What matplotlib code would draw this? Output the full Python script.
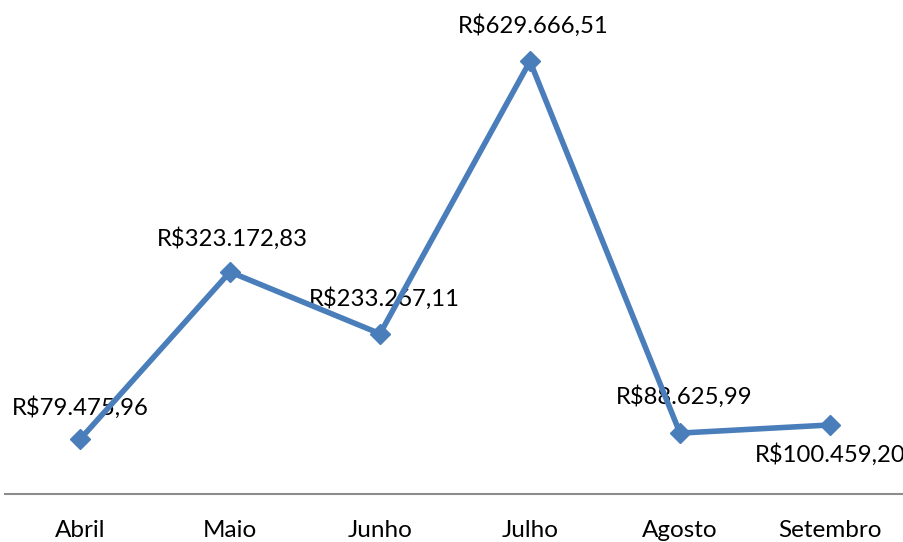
import matplotlib
matplotlib.use("Agg")
import matplotlib.pyplot as plt

meses = ["Abril", "Maio", "Junho", "Julho", "Agosto", "Setembro"]
valores = [79475.96, 323172.83, 233267.11, 629666.51, 88625.99, 100459.20]
rotulos = ["R$79.475,96", "R$323.172,83", "R$233.267,11",
           "R$629.666,51", "R$88.625,99", "R$100.459,20"]
# offset of each label in points (dx, dy)
offsets = [(0, 23), (2, 24), (3, 25), (2, 26), (3, 26), (0, -21)]

plt.rcParams['font.family'] = ['Lato', 'DejaVu Sans']

fig = plt.figure(figsize=(9.04, 5.42), dpi=100)
ax = fig.add_axes([5 / 904, 48 / 542, 900 / 904, 481 / 542])

x = list(range(len(meses)))
ax.plot(x, valores, color="#4A7EBB", linewidth=4, marker="D",
        markersize=10, zorder=3, solid_capstyle="round")

for i in x:
    ax.annotate(rotulos[i], (x[i], valores[i]), xytext=offsets[i],
                textcoords="offset points", ha="center", va="center",
                fontsize=17.2, color="black", zorder=2)

ax.set_xlim(-0.5, 5.5)
ax.set_ylim(0, 700000)
ax.set_xticks(x)
ax.set_xticklabels(meses, fontsize=17.5)
ax.tick_params(axis="x", length=0, pad=18.5)
ax.set_yticks([])
for s in ["top", "left", "right"]:
    ax.spines[s].set_visible(False)
ax.spines["bottom"].set_color("#8C8C8C")
ax.spines["bottom"].set_linewidth(1.5)

fig.savefig("out.png", dpi=100)
